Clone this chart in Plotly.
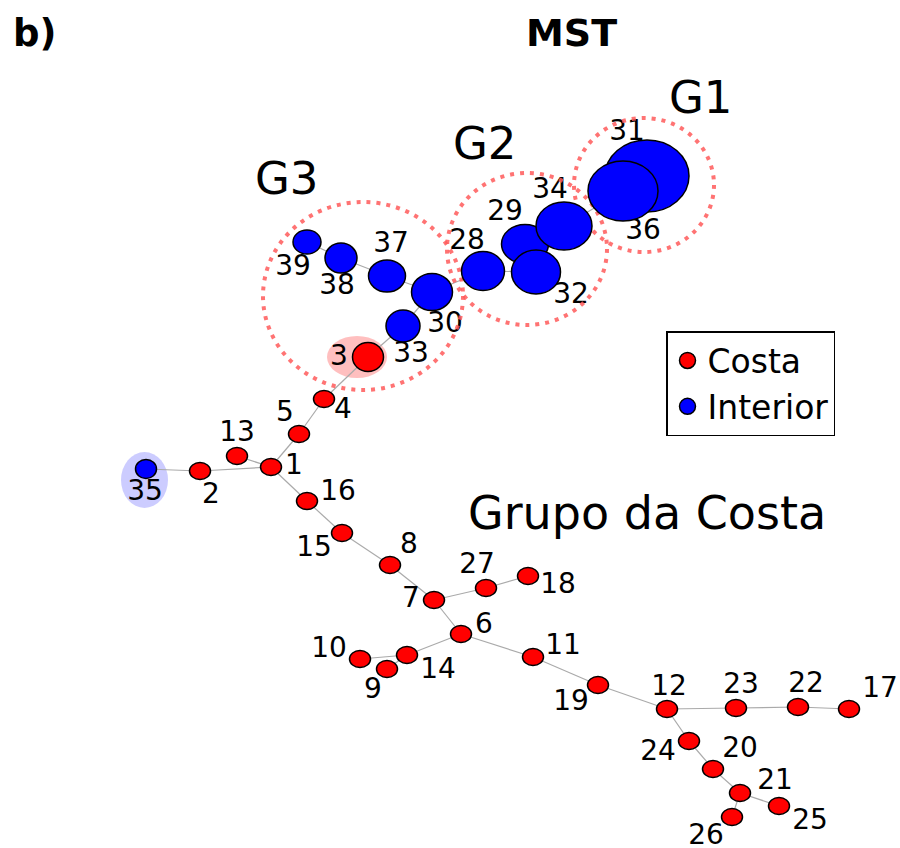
import plotly.graph_objects as go

# ---------------- data ----------------
node_ids = [1, 2, 3, 4, 5, 6, 7, 8, 9, 10, 11, 12, 13, 14, 15, 16, 17, 18, 19, 20,
            21, 22, 23, 24, 25, 26, 27, 28, 29, 30, 31, 32, 33, 34, 35, 36, 37, 38, 39]
node_x = [271, 200, 368, 324, 299, 461, 434, 390, 387, 360, 533, 667, 237, 407, 342, 307, 849, 528, 598, 713,
          740, 798, 736, 689, 779, 732, 486, 483, 525, 432, 647, 536, 403, 564, 146, 623, 387, 341, 307]
node_y = [467, 471, 357, 399, 434, 634, 600, 565, 669, 659, 657, 709, 456, 655, 533, 501, 709, 576, 685, 769,
          793, 707, 708, 741, 806, 817, 588, 271, 244, 292, 176, 272, 326, 226, 469, 191, 276, 258, 242]
node_group = ["Costa"] * 27 + ["Interior"] * 12
# node sizes (width, height)
node_w = [21, 21, 31, 21, 21, 21, 21, 21, 21, 21, 21, 21, 21, 21, 21, 21, 21, 21, 21, 21,
          21, 21, 21, 21, 21, 21, 21, 43, 47, 41, 84, 49, 34, 56, 21, 70, 37, 32, 28]
node_h = [17, 17, 29, 17, 17, 17, 17, 17, 17, 17, 17, 17, 17, 17, 17, 17, 17, 17, 17, 17,
          17, 17, 17, 17, 17, 17, 17, 39, 39, 37, 72, 44, 32, 48, 19, 60, 32, 30, 24]

edges = [(35, 2), (2, 1), (13, 1), (1, 5), (5, 4), (4, 3), (3, 33), (33, 30), (30, 37), (37, 38),
         (38, 39), (30, 28), (28, 32), (32, 29), (29, 34), (34, 36), (36, 31), (1, 16), (16, 15),
         (15, 8), (8, 7), (7, 27), (27, 18), (7, 6), (6, 14), (14, 10), (14, 9), (6, 11), (11, 19),
         (19, 12), (12, 23), (23, 22), (22, 17), (12, 24), (24, 20), (20, 21), (21, 25), (21, 26)]

# label offsets relative to node centre
label_dx = {1: 23, 2: 11, 3: -29, 4: 19, 5: -14, 6: 23, 7: -23, 8: 19, 9: -14, 10: -31, 11: 30, 12: 2,
            13: 0, 14: 31, 15: -28, 16: 31, 17: 31, 18: 30, 19: -27, 20: 27, 21: 35, 22: 8, 23: 5,
            24: -31, 25: 31, 26: -26, 27: -9, 28: -16, 29: -20, 30: 13, 31: -20, 32: 35, 33: 8,
            34: -14, 35: -1, 36: 20, 37: 4, 38: -4, 39: -14}
label_dy = {1: 0, 2: 25, 3: 1, 4: 12, 5: -20, 6: -8, 7: 0, 8: -19, 9: 22, 10: -9, 11: -10, 12: -21,
            13: -22, 14: 16, 15: 16, 16: -8, 17: -19, 18: 10, 19: 18, 20: -19, 21: -11, 22: -22,
            23: -22, 24: 12, 25: 16, 26: 20, 27: -22, 28: -29, 29: -31, 30: 33, 31: -43, 32: 24,
            33: 29, 34: -35, 35: 24, 36: 41, 37: -31, 38: 29, 39: 26}

group_names = ["G1", "G2", "G3"]
group_cx = [644, 527, 363]
group_cy = [185, 249, 296]
group_rx = [70, 80, 100]
group_ry = [67, 76, 94]
group_label_x = [701, 485, 287]
group_label_y = [97, 143, 178]

colors = {"Costa": "#ff0000", "Interior": "#0000ff"}

pos = {n: (x, y) for n, x, y in zip(node_ids, node_x, node_y)}

fig = go.Figure()

# edges
ex, ey = [], []
for a, b in edges:
    ex += [pos[a][0], pos[b][0], None]
    ey += [pos[a][1], pos[b][1], None]
fig.add_trace(go.Scatter(x=ex, y=ey, mode="lines", line=dict(color="#aaaaaa", width=1.2),
                         hoverinfo="skip", showlegend=False))

shapes = []
# highlight halos
shapes.append(dict(type="circle", xref="x", yref="y", x0=pos[3][0] - 41, x1=pos[3][0] + 19,
                   y0=pos[3][1] - 21, y1=pos[3][1] + 21, fillcolor="rgba(255,0,0,0.25)",
                   line=dict(width=0), layer="below"))
shapes.append(dict(type="circle", xref="x", yref="y", x0=pos[35][0] - 25, x1=pos[35][0] + 22,
                   y0=pos[35][1] - 17, y1=pos[35][1] + 39, fillcolor="rgba(0,0,255,0.2)",
                   line=dict(width=0), layer="below"))
# group circles
for cx, cy, rx, ry in zip(group_cx, group_cy, group_rx, group_ry):
    shapes.append(dict(type="circle", xref="x", yref="y", x0=cx - rx, x1=cx + rx, y0=cy - ry, y1=cy + ry,
                       line=dict(color="rgba(255,90,90,0.85)", width=4, dash="4px,6px"),
                       fillcolor="rgba(0,0,0,0)", layer="above"))
# nodes
for n, x, y, g, w, h in zip(node_ids, node_x, node_y, node_group, node_w, node_h):
    shapes.append(dict(type="circle", xref="x", yref="y", x0=x - w / 2, x1=x + w / 2,
                       y0=y - h / 2, y1=y + h / 2, fillcolor=colors[g],
                       line=dict(color="black", width=1.5), layer="above"))

# node labels
fig.add_trace(go.Scatter(
    x=[pos[n][0] + label_dx[n] for n in node_ids],
    y=[pos[n][1] + label_dy[n] for n in node_ids],
    text=[str(n) for n in node_ids], mode="text",
    textfont=dict(family="DejaVu Sans", size=28, color="black"),
    hoverinfo="skip", showlegend=False))

# legend entries
for g in ["Costa", "Interior"]:
    fig.add_trace(go.Scatter(x=[None], y=[None], mode="markers", name=g,
                             marker=dict(color=colors[g], size=18, line=dict(color="black", width=1.5))))

annotations = []
for name, lx, ly in zip(group_names, group_label_x, group_label_y):
    annotations.append(dict(x=lx, y=ly, xref="x", yref="y", text=name, showarrow=False,
                            font=dict(family="DejaVu Sans", size=45, color="black")))
annotations.append(dict(x=647, y=513, xref="x", yref="y", text="Grupo da Costa", showarrow=False,
                        font=dict(family="DejaVu Sans", size=46, color="black")))
annotations.append(dict(x=571, y=33, xref="x", yref="y", text="<b>MST</b>", showarrow=False,
                        font=dict(family="DejaVu Sans", size=38, color="black")))
annotations.append(dict(x=34, y=33, xref="x", yref="y", text="<b>b)</b>", showarrow=False,
                        font=dict(family="DejaVu Sans", size=37, color="black")))

fig.update_layout(
    width=900, height=848, autosize=False,
    margin=dict(l=0, r=0, t=0, b=0),
    paper_bgcolor="white", plot_bgcolor="white",
    xaxis=dict(range=[0, 900], visible=False, fixedrange=True),
    yaxis=dict(range=[848, 0], visible=False, fixedrange=True),
    shapes=shapes, annotations=annotations,
    legend=dict(x=666 / 900, y=1 - 331 / 848, xanchor="left", yanchor="top",
                bordercolor="black", borderwidth=1.5, bgcolor="white",
                font=dict(family="DejaVu Sans", size=33, color="black"),
                itemsizing="trace", tracegroupgap=0),
)

fig.write_html("out.html")
